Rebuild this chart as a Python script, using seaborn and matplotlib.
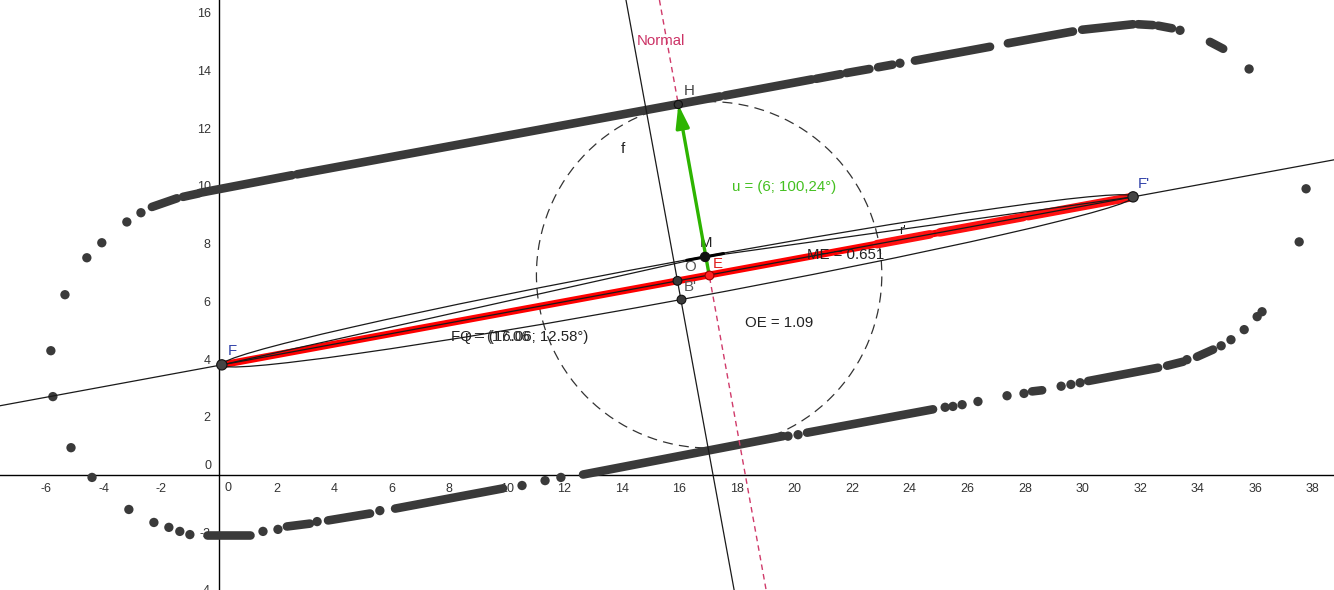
import numpy as np
import matplotlib
matplotlib.use("Agg")
import matplotlib.pyplot as plt
from matplotlib.patches import Ellipse, Circle
import seaborn as sns

# ---------------- key points ----------------
F = (0.10, 3.80)
F2 = (31.76, 9.62)
O = (15.93, 6.71)
B2 = (16.07, 6.06)
M = (16.89, 7.54)
E = (17.03, 6.92)
H = (15.96, 12.82)
ellipse_b = 0.66
circle_r = 6.0

x_ticks = list(range(-6, 39, 2))
y_ticks = list(range(-4, 17, 2))

# ---------------- locus of H (gray dots) ----------------
upper_runs = [
    (-2.33, 9.27, -1.46, 9.57),
    (-1.25, 9.62, -0.70, 9.74),
    (-0.66, 9.76, 2.54, 10.37),
    (2.71, 10.40, 17.41, 13.10),
    (17.58, 13.13, 20.60, 13.69),
    (20.75, 13.71, 21.60, 13.87),
    (21.80, 13.91, 22.60, 14.05),
    (22.90, 14.11, 23.40, 14.20),
    (24.18, 14.34, 26.79, 14.82),
    (27.41, 14.94, 29.67, 15.35),
    (29.99, 15.41, 31.76, 15.60),
    (31.93, 15.60, 32.45, 15.57),
    (32.63, 15.55, 33.11, 15.46),
    (34.43, 14.99, 34.89, 14.75),
]
lower_runs = [
    (-0.42, -2.11, 1.08, -2.11),
    (2.36, -1.80, 3.16, -1.70),
    (3.79, -1.59, 5.25, -1.35),
    (6.12, -1.18, 9.87, -0.48),
    (12.65, 0.00, 19.60, 1.33),
    (20.43, 1.45, 24.81, 2.26),
    (28.25, 2.88, 28.60, 2.92),
    (30.20, 3.24, 32.63, 3.70),
    (32.94, 3.77, 33.50, 3.91),
    (33.98, 4.08, 34.54, 4.33),
]
dots_x = [-5.35, -4.59, -4.07, -3.20, -2.71, 23.66, 33.39, 35.79, 37.77, 37.53,
          -5.84, -5.77, -5.14, -4.41, -3.13, -2.26, -1.74, -1.36, -1.01, 1.53,
          2.05, 3.41, 5.59, 10.53, 11.33, 11.88, 19.77, 20.12, 25.23, 25.50,
          25.82, 26.37, 27.38, 27.97, 29.26, 29.60, 29.92, 33.63, 34.82, 35.16,
          35.62, 36.07, 36.24]
dots_y = [6.23, 7.51, 8.03, 8.75, 9.07, 14.25, 15.39, 14.05, 9.90, 8.06,
          4.29, 2.70, 0.93, -0.10, -1.21, -1.66, -1.83, -1.97, -2.08, -1.97,
          -1.90, -1.63, -1.25, -0.38, -0.21, -0.10, 1.33, 1.38, 2.33, 2.36,
          2.42, 2.53, 2.73, 2.81, 3.06, 3.12, 3.18, 3.98, 4.46, 4.67,
          5.02, 5.47, 5.64]

# ---------------- locus of E (red) ----------------
red_runs = [
    (22.86, 7.98, 24.70, 8.32),
    (25.05, 8.39, 27.94, 8.92),
    (28.11, 8.95, 31.76, 9.62),
]

# ---------------- style ----------------
sns.set_style("white")
plt.rcParams['font.family'] = ['Liberation Sans', 'DejaVu Sans']
plt.rcParams['axes.unicode_minus'] = False

fig = plt.figure(figsize=(13.34, 5.90), dpi=100)
ax = fig.add_axes([0, 0, 1, 1])
ax.set_xlim(-7.607, 38.74)
ax.set_ylim(-3.94, 16.44)
ax.set_facecolor('white')

for s in ['top', 'right']:
    ax.spines[s].set_visible(False)
for s in ['left', 'bottom']:
    ax.spines[s].set_position(('data', 0))
    ax.spines[s].set_color('black')
    ax.spines[s].set_linewidth(1.0)
    ax.spines[s].set_zorder(1)

ax.set_xticks(x_ticks)
ax.set_xticklabels(['' if t == 0 else str(t) for t in x_ticks])
ax.set_yticks(y_ticks)
ax.set_yticklabels(['' if t == 0 else str(t) for t in y_ticks])
ax.tick_params(direction='out', length=4, width=1, colors='#222222',
               labelcolor='#333333', labelsize=9, pad=2)
ax.text(0.31, -0.48, '0', ha='center', va='center', fontsize=9, color='#333333')
ax.text(-0.25, 0.28, '0', ha='right', va='center', fontsize=9, color='#333333')

line_c = '#1a1a1a'
gray = '#3a3a3a'

# direction of F F'
dx, dy = F2[0] - F[0], F2[1] - F[1]
L = np.hypot(dx, dy)
ux, uy = dx / L, dy / L
ang = np.degrees(np.arctan2(dy, dx))

# infinite line F F'
ax.axline(F, F2, color=line_c, lw=0.9, zorder=4)
# minor axis (perpendicular through O)
ax.axline(O, (O[0] - uy, O[1] + ux), color=line_c, lw=0.9, zorder=4)
# normal through E and H
ax.axline(E, H, color='#d03a6a', lw=1.0, ls=(0, (4, 3)), zorder=4)

# red segment F F'
ax.plot([F[0], F2[0]], [F[1], F2[1]], color='#ff0000', lw=5, solid_capstyle='butt', zorder=3)
for (x0, y0, x1, y1) in red_runs:
    ax.plot([x0, x1], [y0, y1], color='#ff1010', lw=6.2, solid_capstyle='round', zorder=3)

# ellipse
a = np.hypot(L / 2, ellipse_b)
ax.add_patch(Ellipse(O, 2 * a, 2 * ellipse_b, angle=ang, fill=False,
                     ec=line_c, lw=0.9, zorder=4))
# string segments F-M, M-F'
ax.plot([F[0], M[0], F2[0]], [F[1], M[1], F2[1]], color=line_c, lw=0.9, zorder=4)

# dashed circle f
ax.add_patch(Circle(E, circle_r, fill=False, ec='#333333', lw=0.9,
                    ls=(0, (8, 5)), zorder=2))

# gray locus
for (x0, y0, x1, y1) in upper_runs + lower_runs:
    ax.plot([x0, x1], [y0, y1], color=gray, lw=6.2, solid_capstyle='round', zorder=2)
sns.scatterplot(x=dots_x, y=dots_y, s=45, color=gray, edgecolor='none', ax=ax, zorder=2)

# tangent mark at M
ax.plot([M[0] - 0.65 * ux, M[0] + 0.65 * ux], [M[1] - 0.65 * uy, M[1] + 0.65 * uy],
        color='black', lw=2.2, zorder=6)

# green vector u from E to H
ax.annotate('', xy=H, xytext=E,
            arrowprops=dict(arrowstyle='-|>,head_length=0.85,head_width=0.25',
                            mutation_scale=16, color='#2db400', lw=2.4,
                            shrinkA=0, shrinkB=0), zorder=7)

# points
pts_x = [F[0], F2[0], O[0], B2[0], M[0], H[0]]
pts_y = [F[1], F2[1], O[1], B2[1], M[1], H[1]]
pts_s = [55, 55, 40, 40, 45, 35]
pts_c = ['#444444', '#444444', '#3a3a3a', '#3a3a3a', '#111111', '#333333']
ax.scatter(pts_x, pts_y, s=pts_s, c=pts_c, edgecolors='#111111', linewidths=0.8, zorder=8)
ax.scatter([E[0]], [E[1]], s=40, c='#ff2020', edgecolors='#990000', linewidths=0.8, zorder=8)

# labels
fs = 10.8
ax.text(14.52, 15.02, 'Normal', color='#cc3366', fontsize=fs, va='center', ha='left')
ax.text(16.16, 13.29, 'H', color='#444444', fontsize=fs, va='center', ha='left')
ax.text(13.97, 11.28, 'f', color='#222222', fontsize=fs, va='center', ha='left')
ax.text(17.82, 9.97, 'u = (6; 100,24°)', color='#44c020', fontsize=fs, va='center', ha='left')
ax.text(16.71, 8.03, 'M', color='#222222', fontsize=fs, va='center', ha='left')
ax.text(16.16, 7.20, 'O', color='#555555', fontsize=fs, va='center', ha='left')
ax.text(17.16, 7.30, 'E', color='#e02020', fontsize=fs, va='center', ha='left')
ax.text(16.16, 6.51, "B'", color='#555555', fontsize=fs, va='center', ha='left')
ax.text(20.43, 7.61, 'ME = 0.651', color='#222222', fontsize=fs, va='center', ha='left')
ax.text(23.62, 8.44, "r'", color='#222222', fontsize=fs * 0.85, va='center', ha='left')
ax.text(18.28, 5.26, 'OE = 1.09', color='#222222', fontsize=fs, va='center', ha='left')
ax.text(8.06, 4.78, 'FQ = (16.06; 12.58°)', color='#222222', fontsize=fs, va='center', ha='left')
ax.text(8.55, 4.78, 'r = (17.06', color='#333333', fontsize=fs, va='center', ha='left')
ax.text(0.31, 4.29, 'F', color='#3344aa', fontsize=fs, va='center', ha='left')
ax.text(31.93, 10.07, "F'", color='#3344aa', fontsize=fs, va='center', ha='left')

fig.savefig('out.png', dpi=100, facecolor='white')
